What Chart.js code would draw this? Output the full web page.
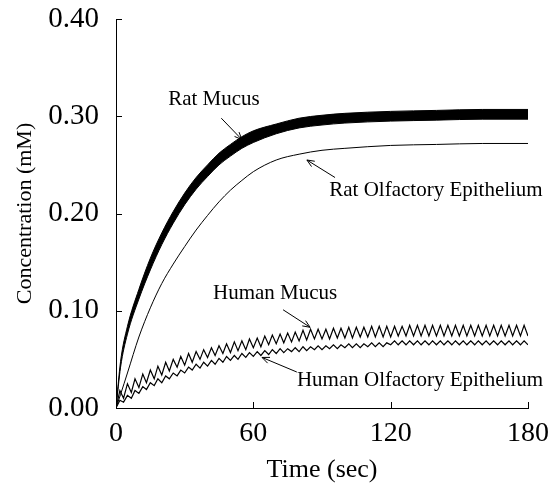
<!DOCTYPE html>
<html>
<head>
<meta charset="utf-8">
<script src="https://cdn.jsdelivr.net/npm/chart.js@4.4.1/dist/chart.umd.min.js"></script>
<style>
  html, body { margin: 0; padding: 0; background: #fff; }
  #wrap { width: 549px; height: 495px; }
</style>
</head>
<body>
<div id="wrap"><canvas id="chart" width="549" height="495"></canvas></div>
<script>
// rat curves, sampled every few seconds
const ratTimes = [0, 2, 5, 10, 15, 20, 25, 30, 35, 40, 45, 50, 55, 60, 70, 80, 90, 100, 120, 140, 160, 180];
const ratMucusUpper = [0, 0.048, 0.084, 0.122, 0.154, 0.180, 0.202, 0.221, 0.237, 0.250, 0.262, 0.271, 0.279, 0.285, 0.292, 0.298, 0.301, 0.303, 0.305, 0.306, 0.307, 0.307];
const ratMucusLower = [0, 0.042, 0.076, 0.112, 0.142, 0.168, 0.190, 0.209, 0.225, 0.238, 0.250, 0.259, 0.267, 0.273, 0.282, 0.288, 0.291, 0.293, 0.295, 0.296, 0.297, 0.297];
const ratEpithelium = [0, 0.014, 0.036, 0.073, 0.103, 0.128, 0.148, 0.166, 0.183, 0.198, 0.212, 0.224, 0.234, 0.243, 0.255, 0.261, 0.265, 0.267, 0.270, 0.271, 0.272, 0.272];

// human curves: one breath every ~3.3 s, trough / peak alternating
const humanTimes = [
  0, 1.7, 3.3, 5, 6.7, 8.3,
  10, 11.7, 13.3, 15, 16.7, 18.3,
  20, 21.7, 23.3, 25, 26.7, 28.3,
  30, 31.7, 33.3, 35, 36.7, 38.3,
  40, 41.7, 43.3, 45, 46.7, 48.3,
  50, 51.7, 53.3, 55, 56.7, 58.3,
  60, 61.7, 63.3, 65, 66.7, 68.3,
  70, 71.7, 73.3, 75, 76.7, 78.3,
  80, 81.7, 83.3, 85, 86.7, 88.3,
  90, 91.7, 93.3, 95, 96.7, 98.3,
  100, 101.7, 103.3, 105, 106.7, 108.3,
  110, 111.7, 113.3, 115, 116.7, 118.3,
  120, 121.7, 123.3, 125, 126.7, 128.3,
  130, 131.7, 133.3, 135, 136.7, 138.3,
  140, 141.7, 143.3, 145, 146.7, 148.3,
  150, 151.7, 153.3, 155, 156.7, 158.3,
  160, 161.7, 163.3, 165, 166.7, 168.3,
  170, 171.7, 173.3, 175, 176.7, 178.3,
  180
];
const humanMucus = [
  0, 0.018, 0.010, 0.025, 0.016, 0.030,
  0.021, 0.035, 0.026, 0.039, 0.030, 0.043,
  0.034, 0.047, 0.038, 0.050, 0.042, 0.053,
  0.044, 0.056, 0.047, 0.058, 0.050, 0.060,
  0.052, 0.062, 0.054, 0.064, 0.056, 0.066,
  0.057, 0.068, 0.059, 0.069, 0.060, 0.071,
  0.062, 0.072, 0.063, 0.074, 0.065, 0.075,
  0.066, 0.076, 0.067, 0.077, 0.068, 0.078,
  0.069, 0.080, 0.070, 0.081, 0.071, 0.081,
  0.071, 0.081, 0.071, 0.082, 0.072, 0.082,
  0.072, 0.083, 0.072, 0.083, 0.073, 0.083,
  0.073, 0.084, 0.073, 0.084, 0.073, 0.084,
  0.073, 0.084, 0.074, 0.084, 0.074, 0.085,
  0.074, 0.085, 0.074, 0.085, 0.074, 0.085,
  0.074, 0.085, 0.074, 0.085, 0.074, 0.085,
  0.074, 0.085, 0.074, 0.085, 0.074, 0.085,
  0.074, 0.085, 0.074, 0.085, 0.074, 0.085,
  0.074, 0.085, 0.074, 0.085, 0.074, 0.085,
  0.074
];
const humanEpithelium = [
  0, 0.008, 0.006, 0.013, 0.010, 0.018,
  0.015, 0.022, 0.019, 0.026, 0.023, 0.030,
  0.026, 0.033, 0.030, 0.036, 0.033, 0.039,
  0.036, 0.042, 0.039, 0.045, 0.041, 0.047,
  0.043, 0.049, 0.045, 0.051, 0.047, 0.053,
  0.049, 0.054, 0.050, 0.056, 0.052, 0.057,
  0.053, 0.058, 0.054, 0.059, 0.055, 0.060,
  0.056, 0.061, 0.057, 0.061, 0.058, 0.062,
  0.058, 0.063, 0.059, 0.063, 0.060, 0.064,
  0.060, 0.064, 0.061, 0.065, 0.061, 0.065,
  0.062, 0.066, 0.062, 0.066, 0.062, 0.066,
  0.063, 0.067, 0.063, 0.067, 0.063, 0.067,
  0.065, 0.069, 0.065, 0.069, 0.065, 0.069,
  0.065, 0.069, 0.065, 0.069, 0.065, 0.069,
  0.065, 0.069, 0.065, 0.069, 0.065, 0.069,
  0.065, 0.069, 0.065, 0.069, 0.065, 0.069,
  0.065, 0.069, 0.065, 0.069, 0.065, 0.069,
  0.065, 0.069, 0.065, 0.069, 0.065, 0.069,
  0.065
];

// labels and arrows, in data units: [text, x, y], arrow [x0, y0, x1, y1]
const labels = [
  ["Rat Mucus", 42.8, 0.317],
  ["Rat Olfactory Epithelium", 139.8, 0.224],
  ["Human Mucus", 69.5, 0.118],
  ["Human Olfactory Epithelium", 132.8, 0.028]
];
const arrows = [
  [46, 0.298, 55, 0.276],
  [95.7, 0.237, 83.4, 0.255],
  [73, 0.101, 84.8, 0.083],
  [79, 0.037, 63.8, 0.052]
];

const serif = '"Liberation Serif", "Times New Roman", serif';
Chart.defaults.font.family = serif;
Chart.defaults.color = "#000";

function pts(xs, ys) {
  return xs.map((x, i) => ({ x: x, y: ys[i] }));
}

const annotate = {
  id: "annotate",
  afterDatasetsDraw(chart) {
    const { ctx, scales: { x, y } } = chart;
    ctx.save();
    ctx.fillStyle = "#000";
    ctx.strokeStyle = "#000";
    ctx.font = "21px " + serif;
    ctx.textAlign = "center";
    ctx.textBaseline = "middle";
    labels.forEach(([t, lx, ly]) => {
      ctx.fillText(t, x.getPixelForValue(lx), y.getPixelForValue(ly));
    });
    ctx.lineWidth = 1;
    arrows.forEach(([x0, y0, x1, y1]) => {
      const ax = x.getPixelForValue(x0), ay = y.getPixelForValue(y0);
      const bx = x.getPixelForValue(x1), by = y.getPixelForValue(y1);
      const a = Math.atan2(by - ay, bx - ax);
      ctx.beginPath();
      ctx.moveTo(ax, ay);
      ctx.lineTo(bx, by);
      ctx.moveTo(bx - 8 * Math.cos(a - 0.4), by - 8 * Math.sin(a - 0.4));
      ctx.lineTo(bx, by);
      ctx.lineTo(bx - 8 * Math.cos(a + 0.4), by - 8 * Math.sin(a + 0.4));
      ctx.stroke();
    });
    ctx.restore();
  }
};

// tick marks point into the plot
const innerTicks = {
  id: "innerTicks",
  afterDraw(chart) {
    const { ctx, scales: { x, y } } = chart;
    ctx.save();
    ctx.strokeStyle = "#000";
    ctx.lineWidth = 1;
    ctx.beginPath();
    y.ticks.forEach(t => {
      const py = Math.round(y.getPixelForValue(t.value)) + 0.5;
      ctx.moveTo(x.left, py);
      ctx.lineTo(x.left + 6, py);
    });
    x.ticks.forEach(t => {
      const px = Math.round(x.getPixelForValue(t.value)) + 0.5;
      ctx.moveTo(px, y.bottom);
      ctx.lineTo(px, y.bottom - 6);
    });
    ctx.stroke();
    ctx.restore();
  }
};

new Chart(document.getElementById("chart"), {
  type: "line",
  data: {
    datasets: [
      {
        label: "Rat Mucus lower",
        data: pts(ratTimes, ratMucusLower),
        borderColor: "#000",
        borderWidth: 1,
        pointRadius: 0,
        cubicInterpolationMode: "monotone",
        fill: false,
      },
      {
        label: "Rat Mucus",
        data: pts(ratTimes, ratMucusUpper),
        borderColor: "#000",
        backgroundColor: "#000",
        borderWidth: 1,
        pointRadius: 0,
        cubicInterpolationMode: "monotone",
        fill: "-1",
      },
      {
        label: "Rat Olfactory Epithelium",
        data: pts(ratTimes, ratEpithelium),
        borderColor: "#000",
        borderWidth: 1,
        pointRadius: 0,
        cubicInterpolationMode: "monotone",
        fill: false,
      },
      {
        label: "Human Mucus",
        data: pts(humanTimes, humanMucus),
        borderColor: "#000",
        borderWidth: 1.2,
        pointRadius: 0,
        tension: 0,
        fill: false,
      },
      {
        label: "Human Olfactory Epithelium",
        data: pts(humanTimes, humanEpithelium),
        borderColor: "#000",
        borderWidth: 1.2,
        pointRadius: 0,
        tension: 0,
        fill: false,
      },
    ],
  },
  options: {
    responsive: false,
    animation: false,
    devicePixelRatio: 1,
    layout: { padding: { top: 19, right: 21, left: 0, bottom: 0 } },
    plugins: {
      legend: { display: false },
      tooltip: { enabled: false },
    },
    scales: {
      x: {
        type: "linear",
        min: 0,
        max: 180,
        border: { color: "#000", width: 1 },
        grid: { display: false, drawTicks: false },
        ticks: { stepSize: 60, padding: 9, font: { size: 28 } },
        title: {
          display: true,
          text: "Time (sec)",
          font: { size: 26 },
          padding: { bottom: 9 },
        },
        afterFit: s => {
          s.height = 87;
          s.paddingLeft = 0;
          s.paddingRight = 0;
        },
      },
      y: {
        min: 0,
        max: 0.4,
        border: { color: "#000", width: 1 },
        grid: { display: false, drawTicks: false },
        ticks: {
          stepSize: 0.1,
          padding: 17,
          font: { size: 29 },
          callback: v => v.toFixed(2),
        },
        title: {
          display: true,
          text: "Concentration (mM)",
          font: { size: 22 },
          padding: { top: 12 },
        },
        afterFit: s => {
          s.width = 116;
          s.paddingTop = 0;
          s.paddingBottom = 0;
        },
      },
    },
  },
  plugins: [annotate, innerTicks],
});
</script>
</body>
</html>
